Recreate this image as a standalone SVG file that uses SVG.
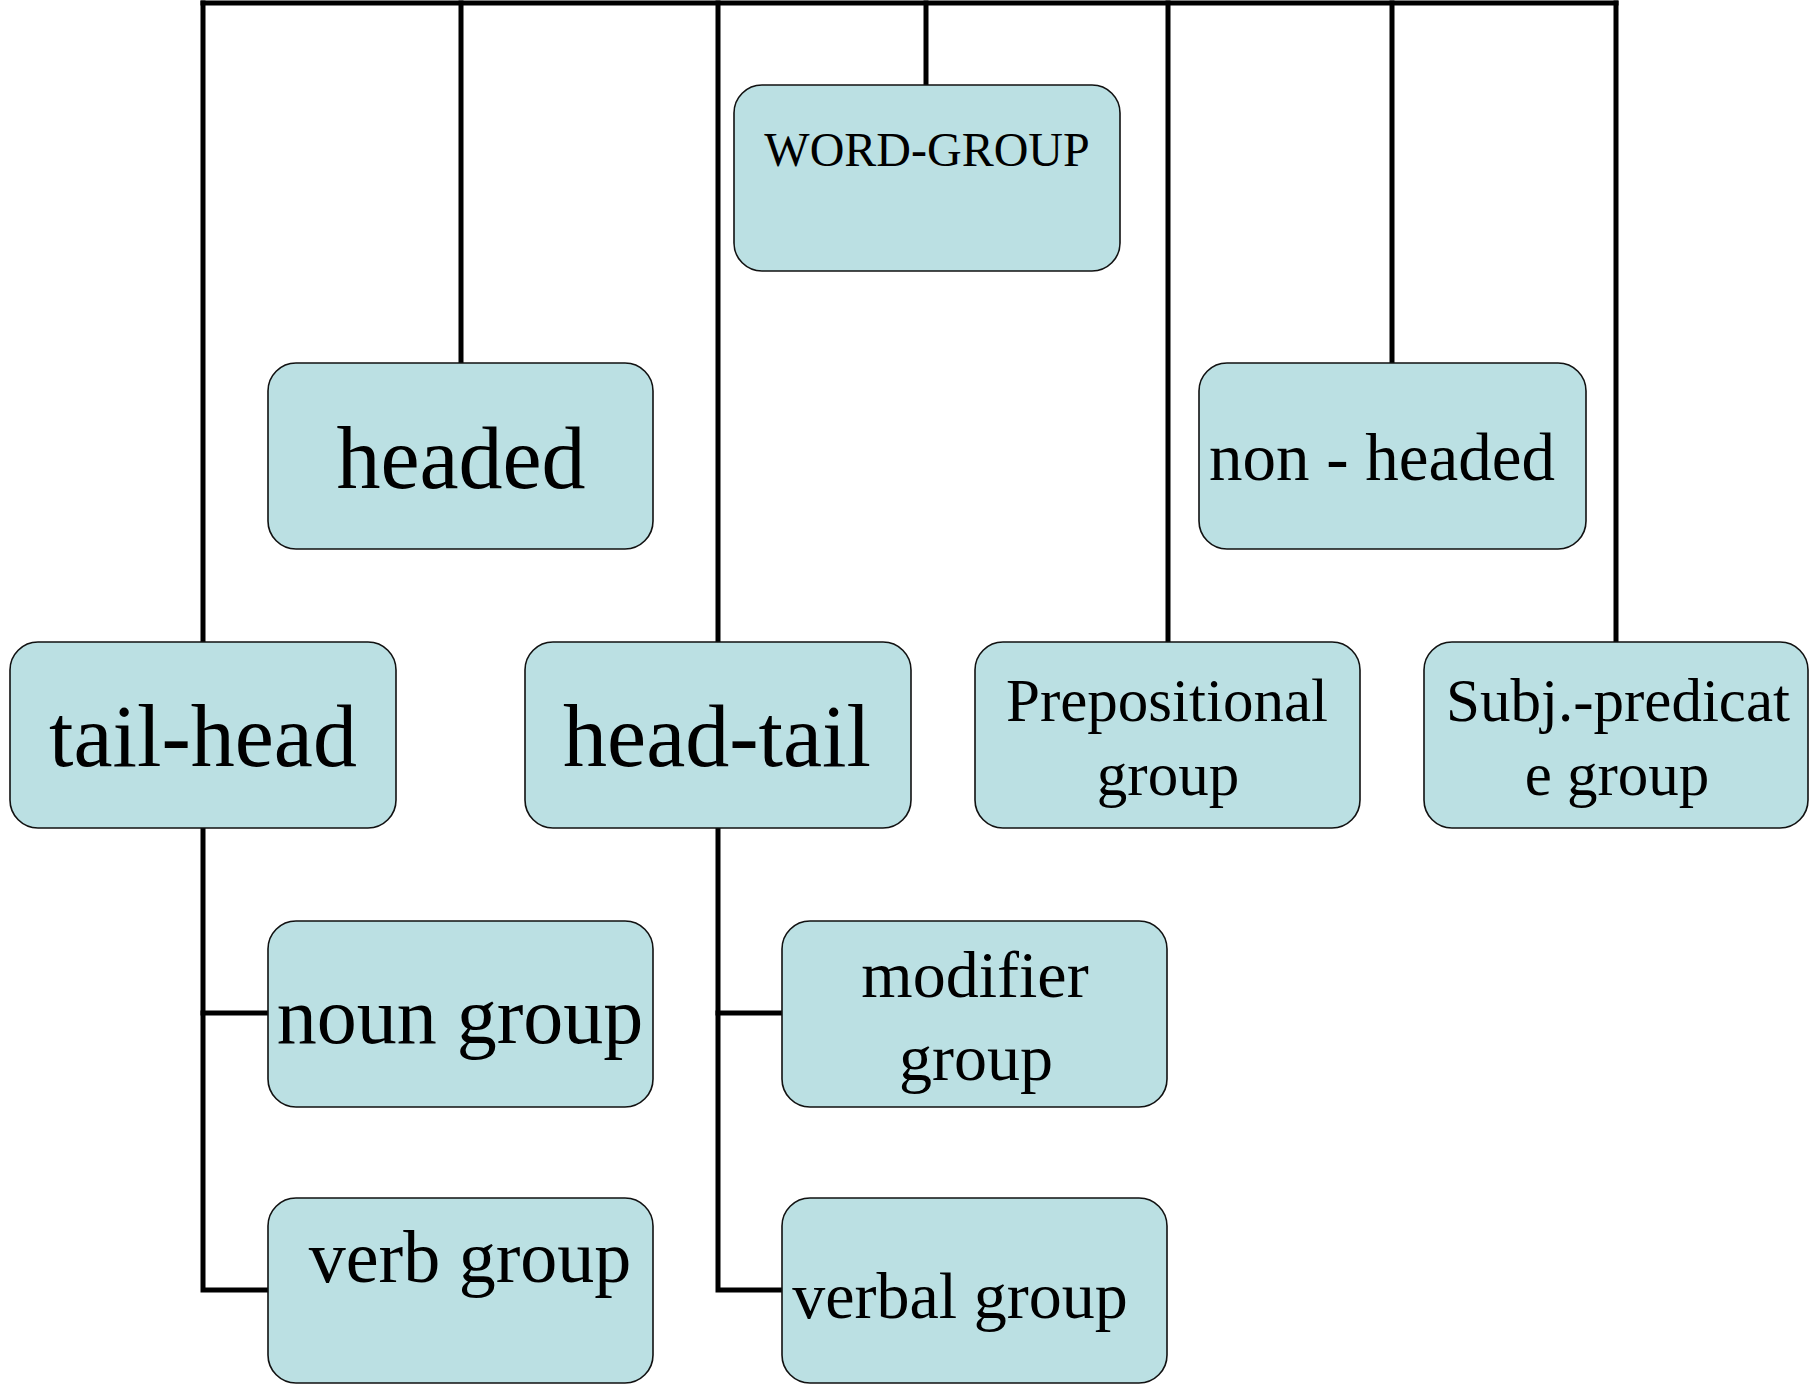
<svg xmlns="http://www.w3.org/2000/svg" width="1810" height="1384" viewBox="0 0 1810 1384">
  <style>
    .box { fill: #BBE0E3; stroke: #111; stroke-width: 1.6; }
    .wire { fill: none; stroke: #000; stroke-width: 5; stroke-linecap: square; }
    text { font-family: "Liberation Serif", "Times New Roman", serif; fill: #000; }
    .c { text-anchor: middle; }
  </style>
  <rect width="1810" height="1384" fill="#fff"/>

  <!-- tree connectors -->
  <g id="connectors">
    <path class="wire" d="M203,3 H1616"/>
    <path class="wire" d="M203,3 V642"/>
    <path class="wire" d="M461,3 V363"/>
    <path class="wire" d="M718,3 V642"/>
    <path class="wire" d="M926,3 V85"/>
    <path class="wire" d="M1168,3 V642"/>
    <path class="wire" d="M1392,3 V363"/>
    <path class="wire" d="M1616,3 V642"/>
    <path class="wire" d="M203,828 V1290 H268"/>
    <path class="wire" d="M203,1013 H268"/>
    <path class="wire" d="M718,828 V1290 H782"/>
    <path class="wire" d="M718,1013 H782"/>
  </g>

  <g id="word-group">
    <rect class="box" x="734" y="85" width="386" height="186" rx="28"/>
    <text class="c" x="927" y="166" font-size="48">WORD-GROUP</text>
  </g>
  <g id="headed">
    <rect class="box" x="268" y="363" width="385" height="186" rx="28"/>
    <text class="c" x="461" y="488" font-size="88">headed</text>
  </g>
  <g id="non-headed">
    <rect class="box" x="1199" y="363" width="387" height="186" rx="28"/>
    <text x="1209" y="480" font-size="67">non - headed</text>
  </g>
  <g id="tail-head">
    <rect class="box" x="10" y="642" width="386" height="186" rx="28"/>
    <text class="c" x="203" y="766" font-size="88">tail-head</text>
  </g>
  <g id="head-tail">
    <rect class="box" x="525" y="642" width="386" height="186" rx="28"/>
    <text class="c" x="717" y="766" font-size="88">head-tail</text>
  </g>
  <g id="prepositional-group">
    <rect class="box" x="975" y="642" width="385" height="186" rx="28"/>
    <text class="c" x="1167" y="721" font-size="61">Prepositional</text>
    <text class="c" x="1168" y="795" font-size="61">group</text>
  </g>
  <g id="subj-predicate-group">
    <rect class="box" x="1424" y="642" width="384" height="186" rx="28"/>
    <text class="c" x="1618" y="721" font-size="61">Subj.-predicat</text>
    <text class="c" x="1617" y="795" font-size="61">e group</text>
  </g>
  <g id="noun-group">
    <rect class="box" x="268" y="921" width="385" height="186" rx="28"/>
    <text class="c" x="460" y="1043" font-size="80">noun group</text>
  </g>
  <g id="modifier-group">
    <rect class="box" x="782" y="921" width="385" height="186" rx="28"/>
    <text class="c" x="975" y="997" font-size="66">modifier</text>
    <text class="c" x="976" y="1080" font-size="66">group</text>
  </g>
  <g id="verb-group">
    <rect class="box" x="268" y="1198" width="385" height="185" rx="28"/>
    <text class="c" x="470" y="1282" font-size="74">verb group</text>
  </g>
  <g id="verbal-group">
    <rect class="box" x="782" y="1198" width="385" height="185" rx="28"/>
    <text class="c" x="960" y="1318" font-size="66">verbal group</text>
  </g>
</svg>
